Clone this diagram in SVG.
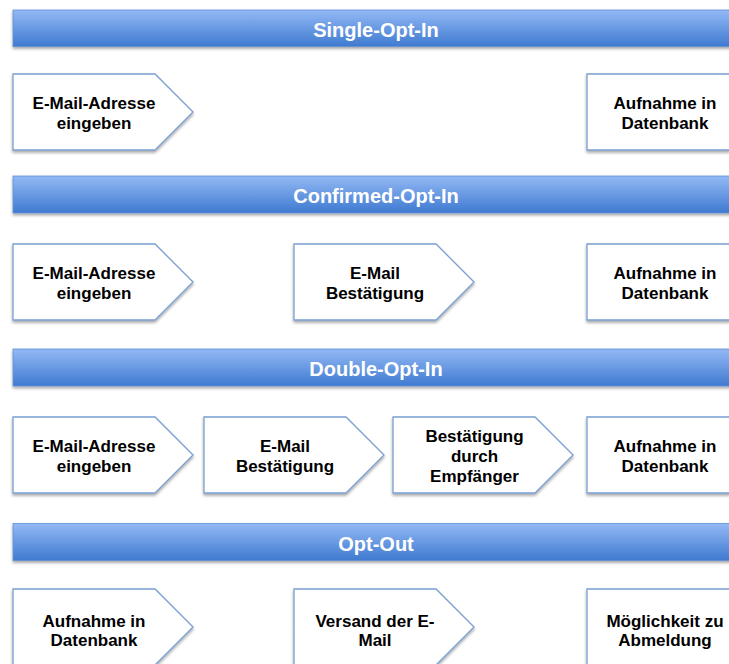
<svg xmlns="http://www.w3.org/2000/svg" width="729" height="664" viewBox="0 0 729 664">
<style>
.band{fill:url(#bg);stroke:#5f8fd6;stroke-width:0.8;filter:url(#sh)}
.bt{font-family:"Liberation Sans",Arial,sans-serif;font-weight:bold;font-size:20px;fill:#ffffff;text-anchor:middle}
.ch{fill:#ffffff;stroke:#7a9fd2;stroke-width:1.3;filter:url(#sh)}
.nt{font-family:"Liberation Sans",Arial,sans-serif;font-weight:bold;font-size:17px;fill:#000000;text-anchor:middle}
</style>
<defs>
<linearGradient id="bg" x1="0" y1="0" x2="0" y2="1">
<stop offset="0" stop-color="#93b9f5"/>
<stop offset="1" stop-color="#3f7ad0"/>
</linearGradient>
<filter id="sh" x="-10%" y="-20%" width="120%" height="150%">
<feDropShadow dx="0" dy="2" stdDeviation="1.5" flood-color="#000" flood-opacity="0.35"/>
</filter>
<path id="chev" d="M0,0 H142 L180,38 L142,76 H0 Z"/>
</defs>
<rect width="729" height="664" fill="#ffffff"/>

<g id="band-single"><rect class="band" x="13" y="10" width="730" height="36.5"/><text class="bt" x="376" y="37">Single-Opt-In</text></g>
<g id="band-confirmed"><rect class="band" x="13" y="176" width="730" height="37"/><text class="bt" x="376" y="203">Confirmed-Opt-In</text></g>
<g id="band-double"><rect class="band" x="13" y="349" width="730" height="37"/><text class="bt" x="376" y="376">Double-Opt-In</text></g>
<g id="band-optout"><rect class="band" x="13" y="523.5" width="730" height="37"/><text class="bt" x="376" y="550.5">Opt-Out</text></g>

<g id="r1n1"><use href="#chev" class="ch" x="13" y="74"/><text class="nt" x="94" y="108.5">E-Mail-Adresse</text><text class="nt" x="94" y="128.5">eingeben</text></g>
<g id="r1n2"><use href="#chev" class="ch" x="587" y="74"/><text class="nt" x="665" y="108.5">Aufnahme in</text><text class="nt" x="665" y="128.5">Datenbank</text></g>

<g id="r2n1"><use href="#chev" class="ch" x="13" y="244"/><text class="nt" x="94" y="279">E-Mail-Adresse</text><text class="nt" x="94" y="299">eingeben</text></g>
<g id="r2n2"><use href="#chev" class="ch" x="294" y="244"/><text class="nt" x="375" y="279">E-Mail</text><text class="nt" x="375" y="299">Bestätigung</text></g>
<g id="r2n3"><use href="#chev" class="ch" x="587" y="244"/><text class="nt" x="665" y="279">Aufnahme in</text><text class="nt" x="665" y="299">Datenbank</text></g>

<g id="r3n1"><use href="#chev" class="ch" x="13" y="417"/><text class="nt" x="94" y="451.7">E-Mail-Adresse</text><text class="nt" x="94" y="471.7">eingeben</text></g>
<g id="r3n2"><use href="#chev" class="ch" x="204" y="417"/><text class="nt" x="285" y="451.7">E-Mail</text><text class="nt" x="285" y="471.7">Bestätigung</text></g>
<g id="r3n3"><use href="#chev" class="ch" x="393" y="417"/><text class="nt" x="474.5" y="441.7">Bestätigung</text><text class="nt" x="474.5" y="461.7">durch</text><text class="nt" x="474.5" y="481.7">Empfänger</text></g>
<g id="r3n4"><use href="#chev" class="ch" x="587" y="417"/><text class="nt" x="665" y="451.7">Aufnahme in</text><text class="nt" x="665" y="471.7">Datenbank</text></g>

<g id="r4n1"><use href="#chev" class="ch" x="13" y="589"/><text class="nt" x="94" y="626.5">Aufnahme in</text><text class="nt" x="94" y="646">Datenbank</text></g>
<g id="r4n2"><use href="#chev" class="ch" x="294" y="589"/><text class="nt" x="375" y="626.5">Versand der E-</text><text class="nt" x="375" y="646">Mail</text></g>
<g id="r4n3"><use href="#chev" class="ch" x="587" y="589"/><text class="nt" x="665" y="626.5">Möglichkeit zu</text><text class="nt" x="665" y="646">Abmeldung</text></g>

<g id="connectors"></g>
</svg>
